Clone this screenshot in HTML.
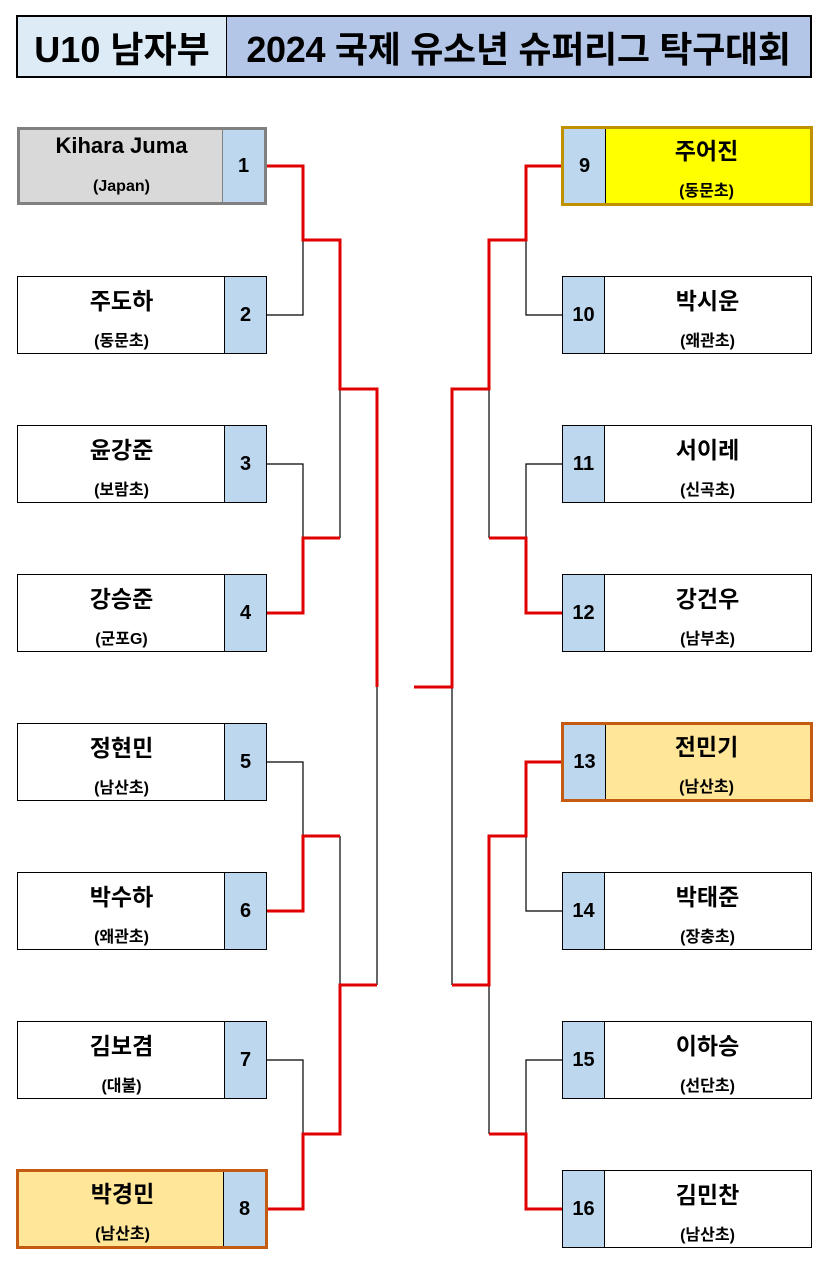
<!DOCTYPE html>
<html><head><meta charset="utf-8"><style>
body{margin:0;width:829px;height:1264px;background:#fff;position:relative;font-family:"Liberation Sans","Noto Sans CJK KR",sans-serif;font-weight:bold;overflow:hidden}
.b{position:absolute;box-sizing:border-box;border:1px solid #000;background:#fff;width:250px;height:78px}
.n{position:absolute;top:0;bottom:0;width:41px;background:#bdd7ee;display:flex;align-items:center;justify-content:center;font-size:20px}
.t{position:absolute;top:0;bottom:0;width:207px;text-align:center}
.t .a{position:absolute;left:0;right:0;top:5px;font-size:23px}
.t .c{position:absolute;left:0;right:0;top:50px;font-size:16px}
.k .t .a{top:3px}.k .t .c{top:48px}
.L .t{left:0}.L .n{right:0;border-left:1px solid #000}
.R .n{left:0;border-right:1px solid #000}.R .t{right:0}
svg{position:absolute;left:0;top:0}
</style></head><body>
<div style="position:absolute;left:16px;top:15px;width:796px;height:63px;box-sizing:border-box;border:2px solid #000;display:flex;font-size:36px">
<div style="width:208px;background:#ddebf7;border-right:1px solid #000;display:flex;align-items:center;justify-content:center">U10 남자부</div>
<div style="flex:1;background:#b4c6e7;display:flex;align-items:center;justify-content:center;letter-spacing:-0.3px">2024 국제 유소년 슈퍼리그 탁구대회</div>
</div>
<svg width="829" height="1264" fill="none" stroke-width="1.2" stroke="#000">
<g>
<path d="M267 315H303V240M267 464H303V538M267 762H303V836M267 1060H303V1134M340 389V538M340 836V985M377 687V985"/>
<path d="M562 315H526V240M562 464H526V538M562 911H526V836M562 1060H526V1134M489 389V538M489 985V1134M452 687V985"/>
</g>
<g stroke="#e00000" stroke-width="3">
<path d="M267 166H303V240H340V389H377V687"/>
<path d="M267 613H303V538H340"/>
<path d="M267 911H303V836H340"/>
<path d="M267 1209H303V1134H340V985H377"/>
<path d="M562 166H526V240H489V389H452V687H414"/>
<path d="M562 613H526V538H489"/>
<path d="M562 762H526V836H489V985H452"/>
<path d="M562 1209H526V1134H489"/>
</g>
</svg>
<div class="b L k" style="left:17px;top:127px;background:#d9d9d9;border:3px solid #808080"><div class="t" style="left:-2px"><div class="a" style="font-size:22px">Kihara Juma</div><div class="c">(Japan)</div></div><div class="n" style="border-left:1px solid #808080">1</div></div>
<div class="b L" style="left:17px;top:276px"><div class="t"><div class="a">주도하</div><div class="c">(동문초)</div></div><div class="n">2</div></div>
<div class="b L" style="left:17px;top:425px"><div class="t"><div class="a">윤강준</div><div class="c">(보람초)</div></div><div class="n">3</div></div>
<div class="b L" style="left:17px;top:574px"><div class="t"><div class="a">강승준</div><div class="c">(군포G)</div></div><div class="n">4</div></div>
<div class="b L" style="left:17px;top:723px"><div class="t"><div class="a">정현민</div><div class="c">(남산초)</div></div><div class="n">5</div></div>
<div class="b L" style="left:17px;top:872px"><div class="t"><div class="a">박수하</div><div class="c">(왜관초)</div></div><div class="n">6</div></div>
<div class="b L" style="left:17px;top:1021px"><div class="t"><div class="a">김보겸</div><div class="c">(대불)</div></div><div class="n">7</div></div>
<div class="b L k" style="left:16px;top:1169px;width:252px;height:80px;background:#ffe699;border:3px solid #c55a11"><div class="t"><div class="a">박경민</div><div class="c">(남산초)</div></div><div class="n">8</div></div>
<div class="b R k" style="left:561px;top:126px;width:252px;height:80px;background:#ffff00;border:3px solid #bf9000"><div class="n">9</div><div class="t"><div class="a">주어진</div><div class="c">(동문초)</div></div></div>
<div class="b R" style="left:562px;top:276px"><div class="n">10</div><div class="t"><div class="a">박시운</div><div class="c">(왜관초)</div></div></div>
<div class="b R" style="left:562px;top:425px"><div class="n">11</div><div class="t"><div class="a">서이레</div><div class="c">(신곡초)</div></div></div>
<div class="b R" style="left:562px;top:574px"><div class="n">12</div><div class="t"><div class="a">강건우</div><div class="c">(남부초)</div></div></div>
<div class="b R k" style="left:561px;top:722px;width:252px;height:80px;background:#ffe699;border:3px solid #c55a11"><div class="n">13</div><div class="t"><div class="a">전민기</div><div class="c">(남산초)</div></div></div>
<div class="b R" style="left:562px;top:872px"><div class="n">14</div><div class="t"><div class="a">박태준</div><div class="c">(장충초)</div></div></div>
<div class="b R" style="left:562px;top:1021px"><div class="n">15</div><div class="t"><div class="a">이하승</div><div class="c">(선단초)</div></div></div>
<div class="b R" style="left:562px;top:1170px"><div class="n">16</div><div class="t"><div class="a">김민찬</div><div class="c">(남산초)</div></div></div>
</body></html>
